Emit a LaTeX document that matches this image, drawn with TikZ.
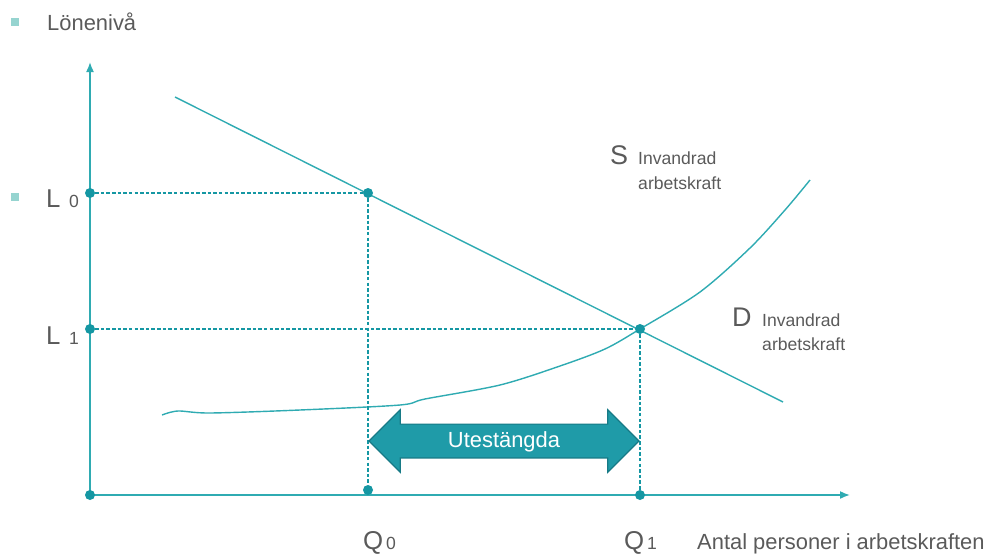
\documentclass[tikz,border=0pt]{standalone}
\usepackage{fontspec}
\setmainfont{Liberation Sans}
\usetikzlibrary{shapes.arrows, arrows.meta, positioning}
\definecolor{lineteal}{HTML}{2FABB2}
\definecolor{dotteal}{HTML}{1597A3}
\definecolor{arrowfill}{HTML}{1F9BA8}
\definecolor{arrowedge}{HTML}{177A86}
\definecolor{bullet}{HTML}{96D4D0}
\definecolor{txtgray}{HTML}{5A5A5A}

\begin{document}
\begin{tikzpicture}[x=0.03cm, y=-0.03cm]
      \tikzstyle{axis} = [-{Latex[length=0.3cm, width=0.24cm]}, line width=1.4pt, color=lineteal]
      \tikzstyle{curve} = [line width=1.2pt, color=lineteal]
      \tikzstyle{guide} = [line width=0.9pt, color=dotteal, dash pattern=on 3pt off 1.8pt]
      \tikzstyle{eqdot} = [circle, fill=dotteal, inner sep=0, minimum size=0.3cm]
      \tikzstyle{sq} = [rectangle, fill=bullet, inner sep=0, minimum size=0.22cm]
      \tikzstyle{lbl} = [anchor=base west, inner sep=0, text=txtgray]
      \useasboundingbox (0,0) rectangle (996,555);
      % axes
      \coordinate (o) at (90,495);
      \coordinate (ytop) at (90,62);
      \coordinate (xend) at (850,495);
      \draw[axis] (o) -- (ytop);
      \draw[axis] (o) -- (xend);
      % demand and supply
      \coordinate (dstart) at (175,97);
      \coordinate (dend) at (783,402);
      \draw[curve] (dstart) -- (dend);
      \draw[curve] plot[smooth, tension=0.5] coordinates {(162,415) (178,411) (210,413) (300,410) (400,405)
        (425,399) (500,385) (560,366) (605,349) (640,329) (700,292) (750,248) (785,210) (810,180)};
      % points
      \node[eqdot] (orig) at (o) {};
      \node[eqdot] (l0) at (90,193) {};
      \node[eqdot] (l1) at (90,329) {};
      \node[eqdot] (e0) at (368,193) {};
      \node[eqdot] (e1) at (640,329) {};
      \node[eqdot] (q0) at (368,490) {};
      \node[eqdot] (q1) at (640,495) {};
      \draw[guide] (l0) -- (e0);
      \draw[guide] (e0) -- (q0);
      \draw[guide] (l1) -- (e1);
      \draw[guide] (e1) -- (q1);
      % excluded
      \node[double arrow, fill=arrowfill, draw=arrowedge, line width=1pt, text=white,
        minimum height=8.1cm, double arrow head extend=0.43cm,
        text height=0.55cm, text depth=0.15cm, inner ysep=0.14cm,
        font=\fontsize{18.7}{22}\selectfont] (excl) at (504,441) {Utestängda};
      % labels
      \node[sq] (b1) at (15,22) {};
      \node[sq] (b2) at (15,197) {};
      \node[lbl, font=\fontsize{18.7}{22}\selectfont] (ylab) at (47,30) {Lönenivå};
      \node[lbl, font=\fontsize{22}{26}\selectfont] (l0lab) at (46,207) {L};
      \node[lbl, font=\fontsize{15}{18}\selectfont] (l0sub) at (69,207) {0};
      \node[lbl, font=\fontsize{22}{26}\selectfont] (l1lab) at (46,344) {L};
      \node[lbl, font=\fontsize{15}{18}\selectfont] (l1sub) at (69,344) {1};
      \node[lbl, font=\fontsize{22}{26}\selectfont] (q0lab) at (363,549) {Q};
      \node[lbl, font=\fontsize{15}{18}\selectfont] (q0sub) at (386,549) {0};
      \node[lbl, font=\fontsize{22}{26}\selectfont] (q1lab) at (624,549) {Q};
      \node[lbl, font=\fontsize{15}{18}\selectfont] (q1sub) at (647,549) {1};
      \node[lbl, font=\fontsize{18.7}{22}\selectfont] (xlab) at (697,549) {Antal personer i arbetskraften};
      \node[lbl, font=\fontsize{23}{27}\selectfont] (slab) at (610,164) {S};
      \node[lbl, font=\fontsize{15}{18}\selectfont] (sinv) at (638,164) {Invandrad};
      \node[lbl, font=\fontsize{15}{18}\selectfont] (sarb) at (638,189) {arbetskraft};
      \node[lbl, font=\fontsize{23}{27}\selectfont] (dlab) at (732,326) {D};
      \node[lbl, font=\fontsize{15}{18}\selectfont] (dinv) at (762,326) {Invandrad};
      \node[lbl, font=\fontsize{15}{18}\selectfont] (darb) at (762,350) {arbetskraft};
    \end{tikzpicture}
\end{document}
